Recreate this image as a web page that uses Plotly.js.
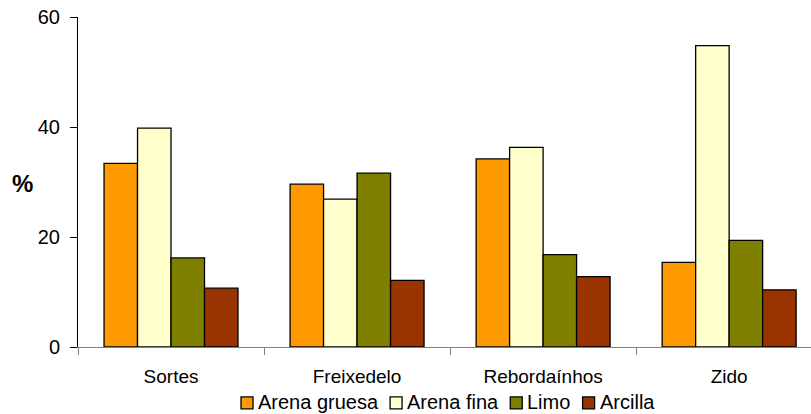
<!DOCTYPE html>
<html><head><meta charset="utf-8">
<script src="https://cdn.plot.ly/plotly-3.0.1.min.js"></script>
<style>html,body{margin:0;padding:0;background:#fff}#chart{width:811px;height:414px}</style>
</head><body><div id="chart"></div>
<script>
const categories = ["Sortes", "Freixedelo", "Rebordaínhos", "Zido"];
const seriesNames = ["Arena gruesa", "Arena fina", "Limo", "Arcilla"];
const arenaGruesa = [33.4, 29.6, 34.2, 15.4];
const arenaFina = [39.8, 26.9, 36.3, 54.8];
const limo = [16.2, 31.6, 16.8, 19.4];
const arcilla = [10.7, 12.1, 12.8, 10.4];
const colors = ["#FF9900", "#FFFFCC", "#808000", "#993300"];
const allValues = [arenaGruesa, arenaFina, limo, arcilla];

const W = 811, H = 414;
const M = {l: 78, r: 0, t: 17, b: 66.5};
const PW = W - M.l - M.r, PH = H - M.t - M.b;
const px2x = px => (px - M.l) / PW;
const py2y = py => (H - M.b - py) / PH;

const traces = allValues.map((vals, i) => ({
  type: "bar",
  name: seriesNames[i],
  x: categories,
  y: vals,
  marker: {color: colors[i], line: {color: "#000", width: 1.3}},
  showlegend: false,
  hoverinfo: "none"
}));

// Custom legend (compact, Excel style): swatch + label, built from seriesNames/colors
const legFont = 20;
const ctx = document.createElement("canvas").getContext("2d");
ctx.font = legFont + "px 'Liberation Sans'";
const shapes = [], annotations = [];
let cx = 241;
const legY = 403.5;
seriesNames.forEach((name, i) => {
  shapes.push({type: "rect", xref: "paper", yref: "paper",
    x0: px2x(cx), x1: px2x(cx + 12), y0: py2y(legY + 6), y1: py2y(legY - 6),
    fillcolor: colors[i], line: {color: "#000", width: 1.3}});
  annotations.push({text: name, xref: "paper", yref: "paper", x: px2x(cx + 16), y: py2y(legY - 1),
    xanchor: "left", yanchor: "middle", showarrow: false, borderpad: 0, font: {size: legFont}});
  cx += 12 + 6 + ctx.measureText(name).width + 11;
});
annotations.push({text: "<b>%</b>", xref: "paper", yref: "paper", x: px2x(22.5), y: py2y(184),
  xanchor: "center", yanchor: "middle", showarrow: false, font: {size: 24}});

const layout = {
  width: W, height: H,
  margin: {l: M.l, r: M.r, t: M.t, b: M.b, autoexpand: false},
  paper_bgcolor: "#fff", plot_bgcolor: "#fff",
  font: {family: "Liberation Sans, Arial, sans-serif", color: "#000"},
  barmode: "group",
  bargap: 0.28, bargroupgap: 0,
  showlegend: false,
  xaxis: {type: "category", range: [-0.5, 3.44], showline: true, linecolor: "#808080", linewidth: 1,
          ticks: "outside", tickson: "boundaries", ticklen: 7, tickcolor: "#808080",
          tickfont: {size: 19}, ticklabelstandoff: 12, showgrid: false, zeroline: false, fixedrange: true},
  yaxis: {range: [0, 60], dtick: 20, showline: true, linecolor: "#000", linewidth: 1,
          ticks: "outside", ticklen: 7, tickcolor: "#000", tickfont: {size: 20}, ticklabelstandoff: 6,
          showgrid: false, zeroline: false, fixedrange: true},
  shapes: shapes,
  annotations: annotations
};
Plotly.newPlot("chart", traces, layout, {displayModeBar: false, staticPlot: true});
</script></body></html>
